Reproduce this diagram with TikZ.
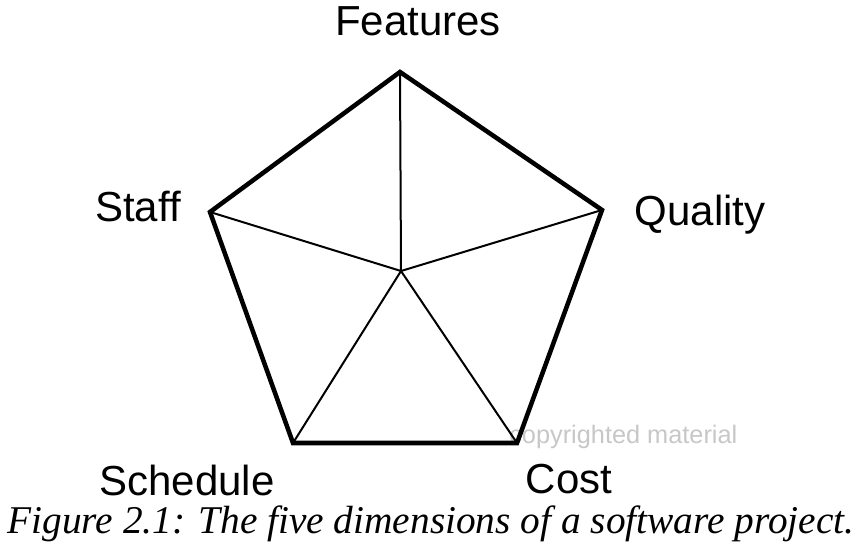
\documentclass[tikz,border=0pt]{standalone}
\usepackage{fontspec}
\setmainfont{Liberation Sans}
\newfontfamily\capfont{Liberation Serif}
\begin{document}
\begin{tikzpicture}[x=0.75pt,y=-0.75pt,
  lbl/.style={font=\fontsize{31.5pt}{36pt}\selectfont, inner sep=0pt, anchor=base},
  outer/.style={line width=3.4pt, line join=miter},
  spoke/.style={line width=1.5pt}]
\useasboundingbox (0,0) rectangle (860,550);
\coordinate (c) at (401,271);
\coordinate (t) at (400,72);
\coordinate (r) at (602,210);
\coordinate (br) at (517,443);
\coordinate (bl) at (293,443);
\coordinate (l) at (210,212);
\node[font=\fontsize{19pt}{21pt}\selectfont, text=black!22, inner sep=0pt, anchor=west] (wm) at (509,437) {copyrighted material};
\foreach \p in {t,r,br,bl,l} \draw[spoke] (c) -- (\p);
\draw[outer] (t) -- (r) -- (br) -- (bl) -- (l) -- cycle;
\node[lbl] (features) at (418,35) {Features};
\node[lbl] (quality) at (700,225) {Quality};
\node[lbl] (staff) at (138,221) {Staff};
\node[lbl] (schedule) at (187,495) {Schedule};
\node[lbl] (cost) at (569,493) {Cost};
\node[inner sep=0pt, anchor=base] (caption) at (431,533) {\resizebox{635pt}{!}{\capfont\itshape Figure 2.1: The five dimensions of a software project.}};
\end{tikzpicture}
\end{document}
